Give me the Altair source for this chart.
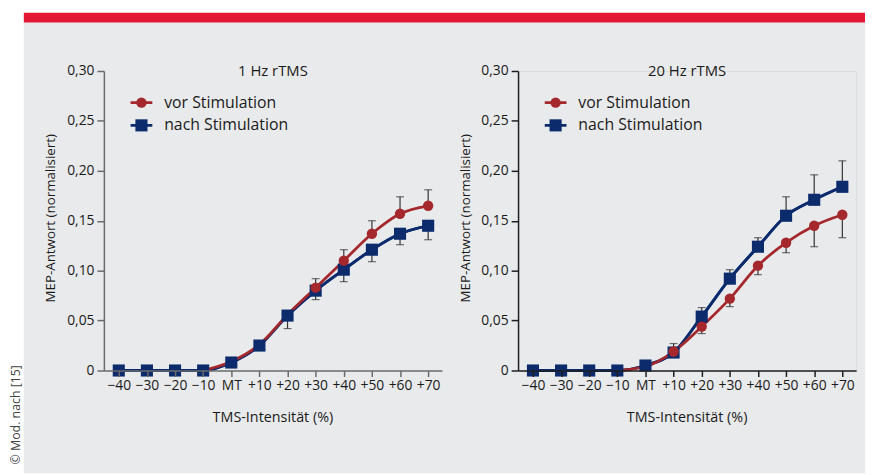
import json
import altair as alt
import pandas as pd

# ---------------- data ----------------
intensity = [-40, -30, -20, -10, 0, 10, 20, 30, 40, 50, 60, 70]
intensity_labels = ["−40", "−30", "−20", "−10", "MT", "+10", "+20", "+30", "+40", "+50", "+60", "+70"]
y_ticks = [0, 0.05, 0.10, 0.15, 0.20, 0.25, 0.30]

series_names = ["vor Stimulation", "nach Stimulation"]
panel_titles = ["1 Hz rTMS", "20 Hz rTMS"]
x_title = "TMS-Intensität (%)"
y_title = "MEP-Antwort (normalisiert)"
credit = "© Mod. nach [15]"

# 1 Hz rTMS
vor_1hz = [None, None, None, 0, 0.009, 0.026, 0.056, 0.083, 0.110, 0.137, 0.157, 0.165]
vor_err_1hz = [None] * 7 + [0.009, 0.011, 0.013, 0.017, 0.016]          # upward
vor_marker_1hz = [0, 0, 0, 0, 0, 0, 0, 1, 1, 1, 1, 1]
nach_1hz = [0, 0, 0, 0, 0.008, 0.025, 0.055, 0.080, 0.101, 0.121, 0.137, 0.145]
nach_err_1hz = [None] * 6 + [0.013, 0.009, 0.012, 0.012, 0.011, 0.014]   # downward

# 20 Hz rTMS
vor_20hz = [None, None, None, 0, 0.004, 0.019, 0.044, 0.072, 0.105, 0.128, 0.145, 0.156]
vor_err_20hz = [None] * 6 + [0.007, 0.008, 0.009, 0.010, 0.021, 0.023]   # downward
vor_marker_20hz = [0, 0, 0, 0, 0, 1, 1, 1, 1, 1, 1, 1]
nach_20hz = [0, 0, 0, 0, 0.005, 0.018, 0.054, 0.092, 0.124, 0.155, 0.171, 0.184]
nach_err_20hz = [None] * 5 + [0.009, 0.009, 0.009, 0.009, 0.019, 0.025, 0.026]  # upward

RED = "#a4282c"
BLUE = "#0c2b6d"
ERR = "#333333"
TXT = "#1a1a1a"
FONT = "Open Sans"

W, H = 342, 303
X_DOMAIN = [-45.3, 74.9]

label_expr = "%s[indexof(%s, datum.value)]" % (
    json.dumps(intensity_labels, ensure_ascii=False), json.dumps(intensity))
y_label_expr = "datum.value == 0 ? '0' : replace(format(datum.value, '.2f'), '.', ',')"

one = alt.Data(values=[{"k": 1}])


def build_df(vor, vor_err, vor_dir, vor_mark, nach, nach_err, nach_dir):
    rows = []
    for i, x in enumerate(intensity):
        v = vor[i]
        n = nach[i]
        rows.append({
            "x": x,
            "vor": v,
            "nach": n,
            "vor_end": (v + vor_dir * vor_err[i]) if (v is not None and vor_err[i] is not None) else None,
            "nach_end": (n + nach_dir * nach_err[i]) if nach_err[i] is not None else None,
            "vor_mark": vor_mark[i],
        })
    return pd.DataFrame(rows)


def panel(title, df, axis_color, with_frame):
    x_axis = alt.Axis(values=intensity, labelExpr=label_expr, title=None, grid=False,
                      tickSize=6, tickWidth=1.5, domainWidth=1.5,
                      domainColor=axis_color, tickColor=axis_color,
                      labelFontSize=14, labelColor=TXT, labelPadding=2,
                      labelFont=FONT, zindex=1, labelOverlap=False, labelBound=False,
                      labelFlush=False)
    y_axis = alt.Axis(values=y_ticks, labelExpr=y_label_expr, title=None, grid=False,
                      tickSize=7, tickWidth=1.5, domainWidth=1.5,
                      domainColor=axis_color, tickColor=axis_color,
                      labelFontSize=14, labelColor=TXT, labelPadding=3,
                      labelFont=FONT, zindex=1, labelOverlap=False)
    x_scale = alt.Scale(domain=X_DOMAIN, nice=False, zero=False)
    y_scale = alt.Scale(domain=[0, 0.30], nice=False, zero=True)

    def X():
        return alt.X("x:Q", scale=x_scale, axis=x_axis)

    def Y(f):
        return alt.Y(f + ":Q", scale=y_scale, axis=y_axis)

    def Y2(f):
        return alt.Y2(f + ":Q")

    base = alt.Chart(df)
    layers = []
    if with_frame:
        layers += [
            alt.Chart(one).mark_rect(color="white").encode(
                x=alt.value(-96), x2=alt.value(770), y=alt.value(-60), y2=alt.value(407)),
            alt.Chart(one).mark_rect(color="#e9eaec").encode(
                x=alt.value(-81), x2=alt.value(770), y=alt.value(-49), y2=alt.value(407)),
            alt.Chart(one).mark_rect(color="#e31634").encode(
                x=alt.value(-81), x2=alt.value(770), y=alt.value(-59), y2=alt.value(-49)),
            alt.Chart(one).mark_text(angle=270, align="left", baseline="middle", fontSize=12.5,
                                     color="#444444", font=FONT).encode(
                x=alt.value(-89), y=alt.value(398), text=alt.value(credit)),
        ]
    # lines first so axes/scales are defined with full spec
    layers += [
        base.mark_line(color=BLUE, strokeWidth=2.8, interpolate="monotone").encode(
            x=X(), y=Y("nach")),
    ]
    # error bars
    layers += [
        base.mark_rule(color=ERR, strokeWidth=1.2).encode(
            x=X(), y=Y("nach"), y2=Y2("nach_end")).transform_filter("isValid(datum.nach_end)"),
        base.mark_tick(color=ERR, orient="horizontal", size=8, thickness=1.2).encode(
            x=X(), y=Y("nach_end")).transform_filter("isValid(datum.nach_end)"),
        base.mark_rule(color=ERR, strokeWidth=1.2).encode(
            x=X(), y=Y("vor"), y2=Y2("vor_end")).transform_filter("isValid(datum.vor_end)"),
        base.mark_tick(color=ERR, orient="horizontal", size=8, thickness=1.2).encode(
            x=X(), y=Y("vor_end")).transform_filter("isValid(datum.vor_end)"),
    ]
    layers += [
        base.mark_line(color=BLUE, strokeWidth=2.8, interpolate="monotone").encode(
            x=X(), y=Y("nach")),
        base.mark_line(color=RED, strokeWidth=2.8, interpolate="monotone").encode(
            x=X(), y=Y("vor")).transform_filter("isValid(datum.vor)"),
        base.mark_point(shape="square", filled=True, size=150, opacity=1, color=BLUE).encode(
            x=X(), y=Y("nach")),
        base.mark_point(shape="circle", filled=True, size=110, opacity=1, color=RED).encode(
            x=X(), y=Y("vor")).transform_filter("datum.vor_mark == 1"),
    ]
    # legend
    for name, col, shape, size, yy in [(series_names[0], RED, "circle", 110, 32),
                                        (series_names[1], BLUE, "square", 150, 55)]:
        layers += [
            alt.Chart(one).mark_rule(color=col, strokeWidth=2.8).encode(
                x=alt.value(27), x2=alt.value(49), y=alt.value(yy)),
            alt.Chart(one).mark_point(shape=shape, filled=True, size=size, opacity=1, color=col).encode(
                x=alt.value(38), y=alt.value(yy)),
            alt.Chart(one).mark_text(align="left", baseline="middle", fontSize=16, color=TXT,
                                     font=FONT).encode(
                x=alt.value(61), y=alt.value(yy), text=alt.value(name)),
        ]
    # titles
    layers += [
        alt.Chart(one).mark_text(align="center", baseline="middle", fontSize=15, color=TXT,
                                 font=FONT).encode(
            x=alt.value(W / 2), y=alt.value(0), text=alt.value(title)),
        alt.Chart(one).mark_text(align="center", baseline="middle", fontSize=14.5, color=TXT,
                                 font=FONT).encode(
            x=alt.value(W / 2), y=alt.value(351), text=alt.value(x_title)),
        alt.Chart(one).mark_text(align="center", baseline="middle", fontSize=13.5, color=TXT,
                                 font=FONT, angle=270).encode(
            x=alt.value(-53), y=alt.value(149), text=alt.value(y_title)),
    ]
    return alt.layer(*layers).properties(width=W, height=H)


df1 = build_df(vor_1hz, vor_err_1hz, 1, vor_marker_1hz, nach_1hz, nach_err_1hz, -1)
df2 = build_df(vor_20hz, vor_err_20hz, -1, vor_marker_20hz, nach_20hz, nach_err_20hz, 1)

left = panel(panel_titles[0], df1, "#6a6a6a", True)
right = panel(panel_titles[1], df2, "#1e1e1e", False)

chart = alt.hconcat(left, right, spacing=77, bounds="flush").properties(
    padding=0
).configure_view(strokeWidth=0).configure_axis(labelOverlap=False).configure(font=FONT)

chart.save("out.html", embed_options={"renderer": "svg", "actions": False})
